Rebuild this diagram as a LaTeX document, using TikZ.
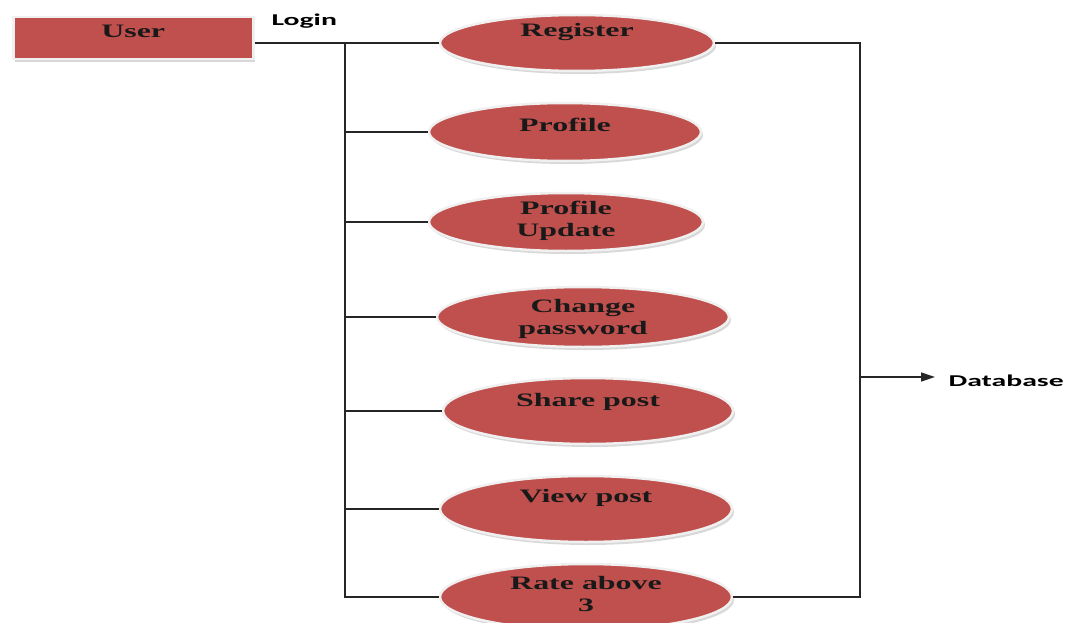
\documentclass[tikz,border=0pt]{standalone}
\usepackage{fontspec}
\newfontfamily\elfont[FakeStretch=1.68]{Liberation Serif}
\newfontfamily\lblfont[FakeStretch=1.8]{Carlito}
\usetikzlibrary{shapes.geometric,shadows,arrows.meta}
\definecolor{ured}{RGB}{192,80,77}
\begin{document}
\begin{tikzpicture}[x=1pt,y=-1pt,
  uc/.style={ellipse, fill=ured, draw=gray!12, line width=2.5pt, inner sep=0pt,
    drop shadow={shadow xshift=2pt,shadow yshift=-3pt,fill=gray!60}},
  ubox/.style={rectangle, fill=ured, draw=gray!12, line width=2.5pt, inner sep=0pt,
    drop shadow={shadow xshift=2pt,shadow yshift=-3pt,fill=gray!60}},
  uctext/.style={font=\elfont\bfseries\fontsize{19}{22}\selectfont, align=center, text=black!90},
  conn/.style={line width=1.3pt, draw=black!85},
  lbl/.style={font=\lblfont\bfseries\fontsize{16.5}{18}\selectfont}]
\useasboundingbox[fill=white] (0,0) rectangle (1070,623);

\node[ubox, minimum width=240, minimum height=42, anchor=north west,
  label={[uctext,yshift=7pt]center:User}] (user) at (12,16) {};
\node[lbl, anchor=west] (login) at (268,21) {Login};

\node[uc, minimum width=274, minimum height=56, label={[uctext,yshift=11pt]center:Register}] (reg) at (577,43) {};
\node[uc, minimum width=272, minimum height=58, label={[uctext,yshift=7pt]center:Profile}] (prof) at (565,132) {};
\node[uc, minimum width=274, minimum height=58, label={[uctext,yshift=1pt]center:Profile\\Update}] (pupd) at (566,222) {};
\node[uc, minimum width=292, minimum height=60, label={[uctext,yshift=-2pt]center:Change\\password}] (chg) at (583,317) {};
\node[uc, minimum width=290, minimum height=66, label={[uctext,yshift=9pt]center:Share post}] (share) at (588,411) {};
\node[uc, minimum width=292, minimum height=66, label={[uctext,yshift=11pt]center:View post}] (view) at (586,509) {};
\node[uc, minimum width=292, minimum height=66, label={[uctext,yshift=3pt]center:Rate above\\3}] (rate) at (586,597) {};

\node[lbl, anchor=west] (db) at (945,381) {Database};

\coordinate (tl) at (345,43);
\coordinate (bl) at (tl |- rate.west);
\coordinate (tr) at (860,43);
\coordinate (br) at (tr |- rate.east);
\coordinate (arr) at (935,377);

\draw[conn] (user.east |- tl) -- (reg.west);
\draw[conn] (tl) -- (bl) -- (rate.west);
\foreach \n in {prof,pupd,chg,share,view} \draw[conn] (tl |- \n.west) -- (\n.west);
\draw[conn] (reg.east) -- (tr) -- (br) -- (rate.east);
\draw[conn, -{Triangle[length=14pt,width=9pt]}] (tr |- arr) -- (arr);
\end{tikzpicture}
\end{document}
